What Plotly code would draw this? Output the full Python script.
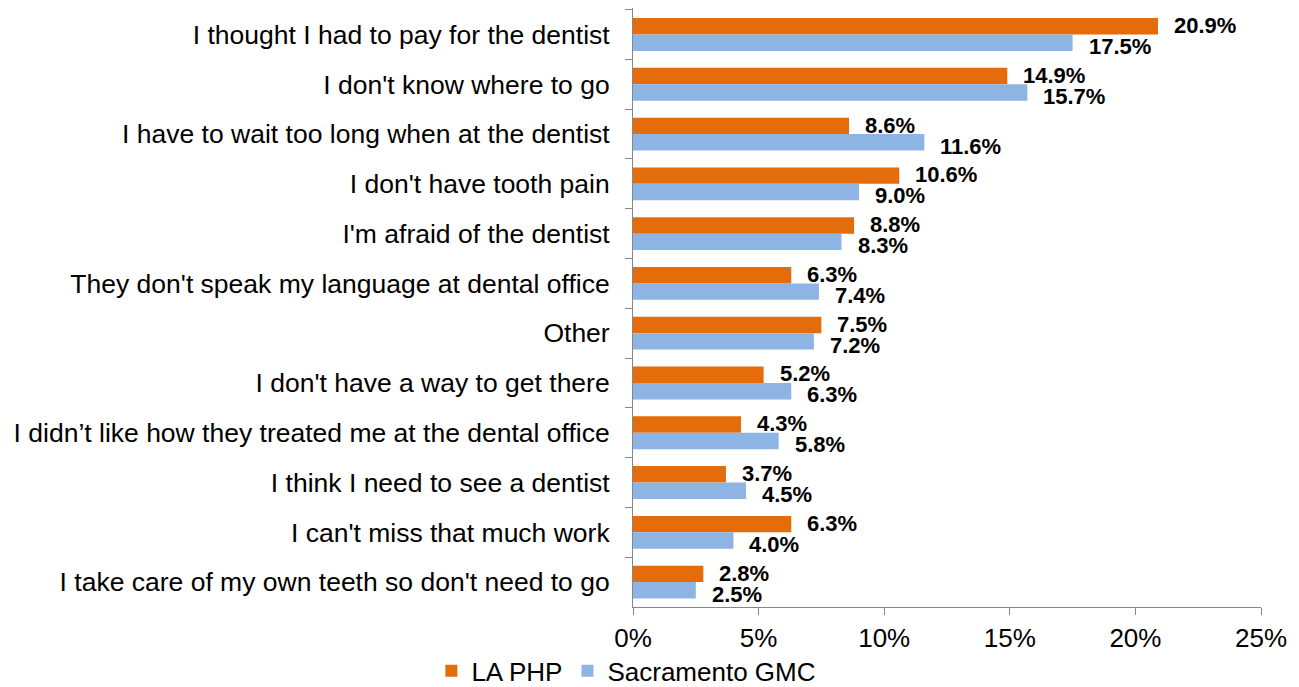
import plotly.graph_objects as go

categories = [
    "I thought I had to pay for the dentist",
    "I don't know where to go",
    "I have to wait too long when at the dentist",
    "I don't have tooth pain",
    "I'm afraid of the dentist",
    "They don't speak my language at dental office",
    "Other",
    "I don't have a way to get there",
    "I didn\u2019t like how they treated me at the dental office",
    "I think I need to see a dentist",
    "I can't miss that much work",
    "I take care of my own teeth so don't need to go",
]
la_php = [20.9, 14.9, 8.6, 10.6, 8.8, 6.3, 7.5, 5.2, 4.3, 3.7, 6.3, 2.8]
sacramento_gmc = [17.5, 15.7, 11.6, 9.0, 8.3, 7.4, 7.2, 6.3, 5.8, 4.5, 4.0, 2.5]
x_ticks = [0, 5, 10, 15, 20, 25]
x_tick_labels = ["0%", "5%", "10%", "15%", "20%", "25%"]

ORANGE = "#E46C0A"
BLUE = "#8EB4E3"
AXIS = "#868686"
FONT = "Liberation Sans, Arial, sans-serif"

fig = go.Figure()
fig.add_trace(go.Bar(
    name="LA PHP", y=categories, x=la_php, orientation="h",
    marker=dict(color=ORANGE, line=dict(width=0)),
))
fig.add_trace(go.Bar(
    name="Sacramento GMC", y=categories, x=sacramento_gmc, orientation="h",
    marker=dict(color=BLUE, line=dict(width=0)),
))

annotations = []
for cat, v in zip(categories, la_php):
    annotations.append(dict(
        x=v, y=cat, xref="x", yref="y", text=f"<b>{v:.1f}%</b>",
        showarrow=False, xanchor="left", yanchor="middle",
        xshift=14, yshift=9, font=dict(family=FONT, size=22, color="#000000"),
    ))
for cat, v in zip(categories, sacramento_gmc):
    annotations.append(dict(
        x=v, y=cat, xref="x", yref="y", text=f"<b>{v:.1f}%</b>",
        showarrow=False, xanchor="left", yanchor="middle",
        xshift=14, yshift=-12, font=dict(family=FONT, size=22, color="#000000"),
    ))

fig.update_layout(
    width=1291, height=687,
    margin=dict(l=625, r=38, t=0, b=88, autoexpand=False),
    paper_bgcolor="white", plot_bgcolor="white",
    barmode="group", bargap=0.34, bargroupgap=0,
    font=dict(family=FONT, size=26, color="#000000"),
    showlegend=True,
    legend=dict(
        orientation="h", xref="container", x=0.479, xanchor="center",
        yref="container", y=0.035, yanchor="middle",
        font=dict(family=FONT, size=26, color="#000000"),
        traceorder="normal", itemwidth=30,
    ),
    annotations=annotations,
)
fig.update_xaxes(
    range=[0, 25], tickvals=x_ticks, ticktext=x_tick_labels,
    showgrid=False, zeroline=False, showline=True, linecolor=AXIS, linewidth=1,
    ticks="outside", ticklen=7, tickcolor=AXIS,
    ticklabelstandoff=1,
    tickfont=dict(family=FONT, size=26, color="#000000"),
    fixedrange=True,
)
fig.update_yaxes(
    autorange="reversed", showgrid=False, zeroline=False,
    showline=True, linecolor=AXIS, linewidth=1,
    ticks="outside", ticklen=7, tickcolor=AXIS, tickson="boundaries",
    ticklabelstandoff=17,
    tickfont=dict(family=FONT, size=26.5, color="#000000"),
    fixedrange=True,
)

fig.write_html("out.html")
